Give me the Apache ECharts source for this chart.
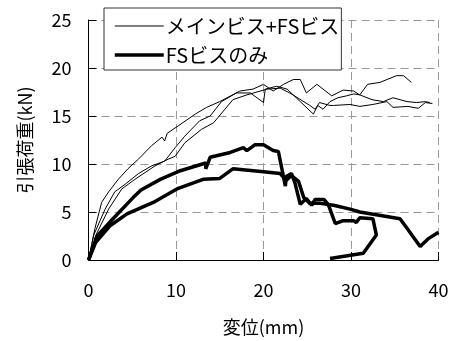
<!DOCTYPE html>
<html>
<head>
<meta charset="utf-8">
<script src="https://cdn.jsdelivr.net/npm/echarts@6/dist/echarts.min.js"></script>
<style>
  html, body { margin: 0; padding: 0; background: #fff; }
  #chart { width: 454px; height: 341px; }
</style>
</head>
<body>
<div id="chart"></div>
<script>
// 変位(mm), 引張荷重(kN)
const xTicks = [0, 10, 20, 30, 40]
const yTicks = [0, 5, 10, 15, 20, 25]
const nameMain = 'メインビス+FSビス'
const nameFs = 'FSビスのみ'

// メインビス+FSビス (3 specimens)
const main1 = [[0,0],[0.74,3.3],[1.5,6.0],[2.3,7.1],[3.4,8.4],[4.5,9.5],[5.7,10.5],[7.2,11.9],[8.4,12.8],[8.7,12.4],[9,13.2],[10.3,14.0],[12.2,15.2],[13.5,15.9],[15.0,16.5],[17.3,17.6],[18.8,17.8],[20,18.3],[21.1,17.6],[22.3,18.3],[23.4,18.8],[24.2,18.8],[24.9,17.4],[26.1,18.3],[27.8,17.1],[29.1,17.7],[30.3,17.6],[31,17.2],[31.9,18.3],[33.3,18.5],[35.2,19.2],[36,19.2],[36.9,18.5]]
const main2 = [[0,0],[0.6,2.6],[1.9,5.3],[3.0,7.1],[4.2,7.9],[5.7,9.0],[7.2,9.8],[8.7,10.3],[9.9,11.7],[11.0,12.9],[12.7,14.5],[13.9,15.0],[15.2,16.5],[16.9,17.4],[18.5,17.4],[20,16.4],[20.2,17.8],[21.5,18.1],[22.7,17.8],[24.2,16.5],[25.7,15.2],[26.2,16.1],[26.8,15.7],[27.6,16.5],[28.5,16.9],[29.5,17.1],[30.3,17.3],[31,17.2],[32.4,16.7],[33.7,16.5],[34.8,16.9],[36.4,16.5],[37.5,16.4],[38.5,16.5],[39,16.4]]
const main3 = [[0,0],[0.8,2.5],[2.3,5.3],[3.8,7.4],[5.3,8.4],[7.6,9.8],[9.1,10.5],[9.9,10.8],[11.0,12.2],[12.9,13.6],[14.3,14.3],[16.5,16.7],[18.1,17.2],[20.4,17.8],[21.9,17.9],[23,17.4],[25.3,16.1],[25.9,15.7],[26.4,16.4],[27.6,16.1],[28,16.1],[29.9,16.2],[31,16.0],[32.5,16.2],[34.1,16.5],[34.8,15.9],[36.5,16.0],[37.7,15.8],[38.5,16.4],[39.3,16.3]]

// FSビスのみ (2 specimens)
const fs1 = [[0,0],[1,2.5],[2.8,4.3],[5.1,6.5],[6,7.3],[8.2,8.4],[10.5,9.3],[13.4,10.1],[13.4,9.5],[13.9,10.7],[16.2,11.2],[17.7,11.7],[18.1,11.4],[19.0,12.0],[20,12.0],[21.1,11.4],[21.7,11.3],[22.5,7.7],[22.6,8.7],[23.2,9.0],[23.6,8.0],[24.2,5.8],[24.9,6.4],[25.5,5.7],[25.9,6.3],[26.9,6.3],[27.4,5.8],[28.2,3.8],[29.1,4.1],[30.3,4.1],[30.6,3.9],[31,4.4],[32.5,4.3],[32.9,2.6],[31.4,0.7],[27.6,0.15]]
const fs2 = [[0,0],[0.8,1.8],[2.5,3.6],[4.4,4.8],[7.4,6.0],[10.1,7.4],[13.1,8.4],[15.0,8.5],[16.5,9.5],[20,9.2],[21.9,9.0],[22.6,8.3],[23.2,8.8],[24.0,8.2],[24.6,6.5],[25.3,5.9],[26.5,5.9],[28,5.7],[29.9,5.3],[31,5.0],[35.6,4.3],[36.4,3.3],[37.9,1.4],[38.8,2.2],[40,2.9]]

const font = '"Noto Sans CJK JP", sans-serif'
const myChart = echarts.init(document.getElementById('chart'))

const makeLine = (name, data, width) => ({
  name: name,
  type: 'line',
  data: data,
  symbol: 'none',
  showSymbol: false,
  clip: true,
  lineStyle: { color: '#000', width: width },
  itemStyle: { color: '#000' },
  emphasis: { disabled: true },
  z: width > 2 ? 3 : 2
})

const option = {
  animation: false,
  grid: { left: 88.5, right: 15.5, top: 20, bottom: 79.5 },
  legend: {
    orient: 'vertical',
    left: 104,
    top: 8,
    padding: [8, 2, 5, 9],
    itemWidth: 49,
    itemHeight: 18,
    itemGap: 9,
    backgroundColor: '#fff',
    borderColor: '#333',
    borderWidth: 1,
    itemStyle: { opacity: 0 },
    data: [
      { name: nameMain, lineStyle: { width: 1 } },
      { name: nameFs, lineStyle: { width: 3.5 } }
    ],
    textStyle: { fontFamily: font, fontSize: 20, color: '#000', padding: [0, 0, 0, -3] }
  },
  xAxis: {
    type: 'value',
    min: xTicks[0],
    max: xTicks[xTicks.length - 1],
    interval: 10,
    name: '変位(mm)',
    nameLocation: 'middle',
    nameGap: 58,
    nameTextStyle: { fontFamily: font, fontSize: 18, color: '#000' },
    axisLine: { lineStyle: { color: '#000', width: 1 } },
    axisTick: { inside: true, length: 8, lineStyle: { color: '#000' } },
    axisLabel: { fontFamily: font, fontSize: 18, color: '#000', margin: 21 },
    splitLine: { show: true, lineStyle: { color: '#999', type: [8, 5], width: 1 } }
  },
  yAxis: {
    type: 'value',
    min: yTicks[0],
    max: yTicks[yTicks.length - 1],
    interval: 5,
    name: '引張荷重(kN)',
    nameLocation: 'middle',
    nameGap: 54,
    nameTextStyle: { fontFamily: font, fontSize: 18, color: '#000' },
    axisLine: { show: true, lineStyle: { color: '#000', width: 1 } },
    axisTick: { show: true, inside: true, length: 8, lineStyle: { color: '#000' } },
    axisLabel: { fontFamily: font, fontSize: 18, color: '#000', margin: 17 },
    splitLine: { show: true, lineStyle: { color: '#999', type: [8, 5], width: 1 } }
  },
  series: [
    makeLine(nameMain, main1, 1),
    makeLine(nameMain, main2, 1),
    makeLine(nameMain, main3, 1),
    makeLine(nameFs, fs1, 3.5),
    makeLine(nameFs, fs2, 3.5)
  ]
}
myChart.setOption(option)
</script>
</body>
</html>
